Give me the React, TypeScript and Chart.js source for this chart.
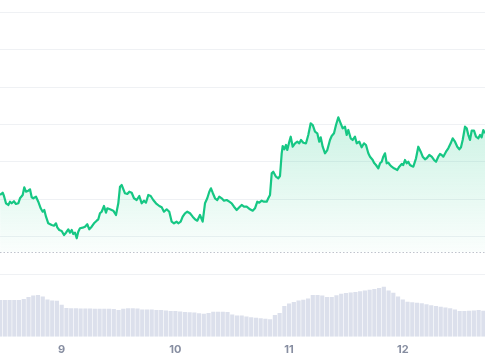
import React, { useEffect, useRef } from 'react';
import { Chart, registerables } from 'chart.js';

Chart.register(...registerables);

// Hours relative to 00:00 of day "9"
const HOURS = [
  -13.0, -12.45, -12.18, -11.76, -11.27, -10.91, -10.55, -10.07, -9.65, -9.16,
  -8.8, -8.23, -7.89, -7.54, -7.05, -6.69, -6.33, -5.99, -5.42, -4.94,
  -4.43, -4.01, -3.67, -3.31, -2.83, -2.11, -1.63, -1.2, -0.93, -0.51,
  0, 0.49, 0.91, 1.39, 1.75, 2.11, 2.45, 2.81, 3.17, 3.5,
  3.86, 4.43, 4.92, 5.4, 5.83, 6.33, 6.82, 7.39, 7.73, 8.08,
  8.44, 8.93, 9.35, 9.63, 10.2, 10.89, 11.46, 11.95, 12.31, 12.66,
  13.36, 13.85, 14.27, 14.78, 15.26, 15.83, 16.38, 16.89, 17.37, 17.79,
  18.28, 18.79, 19.33, 19.9, 20.6, 21.11, 21.59, 22.16, 22.71, 23.22,
  23.7, 24.27, 24.61, 25.12, 25.54, 26.03, 26.51, 27.08, 27.65, 28.14,
  28.62, 29.19, 29.76, 30.25, 30.73, 31.16, 31.51, 31.87, 32.36, 32.84,
  33.27, 33.77, 34.26, 34.83, 35.38, 35.88, 36.37, 36.94, 37.49, 37.99,
  38.48, 39.05, 39.75, 40.32, 40.8, 41.29, 41.71, 42.22, 42.7, 43.27,
  43.61, 43.97, 44.33, 44.66, 45.23, 45.72, 46.08, 46.44, 46.65, 46.99,
  47.35, 47.62, 48.04, 48.34, 48.76, 49.25, 49.73, 50.15, 50.51, 51.0,
  51.57, 52.05, 52.56, 52.98, 53.47, 53.95, 54.37, 54.67, 55.09, 55.58,
  56.06, 56.63, 56.99, 57.48, 57.9, 58.39, 58.89, 59.31, 59.8, 60.16,
  60.5, 61.0, 61.42, 61.91, 62.27, 62.82, 63.32, 63.81, 64.23, 64.72,
  65.08, 65.65, 65.92, 66.34, 66.83, 67.19, 67.55, 67.88, 68.24, 68.6,
  68.94, 69.3, 69.66, 70.14, 70.56, 70.84, 71.26, 71.77, 72.1, 72.46,
  72.82, 73.16, 73.52, 73.88, 74.22, 74.79, 75.27, 75.78, 76.2, 76.69,
  77.04, 77.59, 78.1, 78.59, 79.01, 79.49, 79.85, 80.21, 80.55, 81.12,
  81.6, 82.11, 82.53, 83.02, 83.5, 83.93, 84.28, 84.64, 85.13, 85.49,
  85.83, 86.18, 86.54, 87.03, 87.45, 87.94, 88.3, 88.65, 88.99, 89.35,
];

const PRICES = [
  31.15, 31.76, 30.88, 28.93, 28.48, 29.36, 28.93, 29.47, 28.74, 28.93,
  30.27, 31.15, 33.21, 32.03, 32.3, 32.67, 30.53, 30.27, 30.7, 29.36,
  27.59, 26.68, 27.14, 25.35, 23.58, 23.13, 22.94, 23.58, 22.51, 21.79,
  21.52, 20.45, 21.07, 21.98, 21.07, 21.79, 20.72, 21.07, 19.57, 21.34,
  22.25, 22.41, 22.67, 23.32, 21.98, 22.67, 23.58, 24.28, 24.65, 26.26,
  26.68, 28.21, 26.42, 27.59, 27.33, 26.95, 25.8, 28.93, 33.37, 33.82,
  31.6, 31.42, 32.03, 31.76, 30.27, 29.81, 30.88, 28.93, 29.63, 29.09,
  31.15, 30.88, 29.81, 28.93, 28.21, 27.86, 26.68, 27.33, 26.68, 24.01,
  23.58, 24.01, 23.58, 24.01, 25.35, 26.26, 26.68, 26.26, 25.35, 24.65,
  24.28, 25.8, 24.01, 28.93, 30.27, 32.03, 32.94, 31.76, 30.27, 29.81,
  30.7, 30.27, 29.63, 29.81, 29.36, 28.93, 28.02, 27.14, 27.86, 28.48,
  28.02, 28.02, 27.33, 26.95, 27.59, 29.36, 29.09, 29.63, 29.36, 29.36,
  30.27, 31.15, 36.95, 37.38, 36.04, 35.61, 36.23, 42.3, 44.25, 43.37,
  44.52, 43.18, 45.4, 46.74, 44.06, 44.97, 45.4, 44.97, 45.86, 45.13,
  44.97, 47.19, 50.32, 49.87, 48.07, 47.65, 45.4, 46.58, 44.06, 42.3,
  43.18, 45.86, 46.93, 47.65, 49.87, 51.93, 50.32, 48.98, 49.41, 47.19,
  48.53, 46.31, 45.86, 46.74, 44.97, 45.4, 43.9, 44.97, 44.52, 42.3,
  41.39, 40.51, 39.79, 39.17, 38.29, 39.63, 40.05, 41.39, 42.3, 39.63,
  39.79, 39.17, 38.72, 38.29, 38.02, 37.83, 38.72, 39.44, 39.17, 40.51,
  39.63, 40.05, 39.17, 38.9, 38.72, 40.96, 44.06, 42.73, 41.39, 40.7,
  40.96, 41.84, 41.39, 40.51, 40.05, 41.39, 42.11, 41.84, 41.39, 42.73,
  43.64, 44.97, 46.31, 45.4, 44.06, 43.37, 43.9, 45.86, 49.41, 48.98,
  47.19, 45.86, 48.34, 48.34, 46.74, 46.31, 47.19, 46.58, 48.53, 47.65,
];

const VOLUME_HOURS = [
  -13, -12, -11, -10, -9, -8, -7, -6, -5, -4,
  -3, -2, -1, 0, 1, 2, 3, 4, 5, 6,
  7, 8, 9, 10, 11, 12, 13, 14, 15, 16,
  17, 18, 19, 20, 21, 22, 23, 24, 25, 26,
  27, 28, 29, 30, 31, 32, 33, 34, 35, 36,
  37, 38, 39, 40, 41, 42, 43, 44, 45, 46,
  47, 48, 49, 50, 51, 52, 53, 54, 55, 56,
  57, 58, 59, 60, 61, 62, 63, 64, 65, 66,
  67, 68, 69, 70, 71, 72, 73, 74, 75, 76,
  77, 78, 79, 80, 81, 82, 83, 84, 85, 86,
  87, 88, 89,
];

const VOLUMES = [
  3.67, 3.67, 3.67, 3.67, 3.66, 3.77, 3.97, 4.12, 4.17, 4.02,
  3.72, 3.62, 3.6, 3.2, 2.87, 2.84, 2.84, 2.82, 2.82, 2.82,
  2.8, 2.8, 2.8, 2.8, 2.77, 2.67, 2.8, 2.84, 2.84, 2.82,
  2.72, 2.72, 2.72, 2.67, 2.67, 2.62, 2.57, 2.57, 2.52, 2.47,
  2.44, 2.42, 2.34, 2.3, 2.37, 2.5, 2.5, 2.5, 2.47, 2.22,
  2.12, 2.12, 2.02, 1.94, 1.89, 1.84, 1.79, 1.74, 2.17, 2.37,
  3.07, 3.32, 3.47, 3.62, 3.7, 3.82, 4.17, 4.17, 4.12, 3.97,
  3.97, 4.15, 4.29, 4.37, 4.42, 4.47, 4.55, 4.62, 4.7, 4.77,
  4.87, 5.0, 4.62, 4.4, 4.02, 3.72, 3.5, 3.44, 3.4, 3.35,
  3.24, 3.15, 3.07, 2.99, 2.92, 2.84, 2.72, 2.57, 2.57, 2.6,
  2.62, 2.67, 2.6,
];

const DAY_TICKS = [0, 24, 48, 72];
const DAY_LABELS = ['9', '10', '11', '12'];
const PRICE_GRID = [10, 20, 30, 40, 50, 60, 70, 80];
const REFERENCE_PRICE = 15.91;

const X_MIN = -13.02;
const X_MAX = 89.35;
const PRICE_MIN = -6.74;
const PRICE_MAX = 80;
const VOLUME_MAX = 32.44;

const GREEN = '#16c784';

export default function App() {
  const canvasRef = useRef<HTMLCanvasElement | null>(null);

  useEffect(() => {
    document.body.style.margin = '0';
    const canvas = canvasRef.current;
    if (!canvas) return;

    const referenceLine = {
      id: 'referenceLine',
      beforeDatasetsDraw(chart: any) {
        const { ctx, chartArea, scales } = chart;
        const y = scales.y.getPixelForValue(REFERENCE_PRICE);
        ctx.save();
        ctx.strokeStyle = '#bfc3cc';
        ctx.lineWidth = 1;
        ctx.setLineDash([1.5, 2]);
        ctx.beginPath();
        ctx.moveTo(chartArea.left, Math.round(y) + 0.5);
        ctx.lineTo(chartArea.right, Math.round(y) + 0.5);
        ctx.stroke();
        ctx.restore();
      },
    };

    const maxPrice = Math.max(...PRICES);

    const chart = new Chart(canvas, {
      type: 'line',
      data: {
        datasets: [
          {
            type: 'line',
            data: HOURS.map((h, i) => ({ x: h, y: PRICES[i] })),
            borderColor: GREEN,
            borderWidth: 2.2,
            borderJoinStyle: 'round',
            pointRadius: 0,
            tension: 0,
            yAxisID: 'y',
            fill: { value: REFERENCE_PRICE },
            backgroundColor: (ctx: any) => {
              const c = ctx.chart;
              if (!c.chartArea) return 'rgba(22,199,132,0.1)';
              const top = c.scales.y.getPixelForValue(maxPrice);
              const bot = c.scales.y.getPixelForValue(REFERENCE_PRICE);
              const g = c.ctx.createLinearGradient(0, top, 0, bot);
              g.addColorStop(0, 'rgba(22,199,132,0.22)');
              g.addColorStop(1, 'rgba(22,199,132,0.02)');
              return g;
            },
            order: 1,
          } as any,
          {
            type: 'bar',
            data: VOLUME_HOURS.map((h, i) => ({ x: h, y: VOLUMES[i] })),
            backgroundColor: '#dce0ec',
            borderWidth: 0,
            barPercentage: 0.88,
            categoryPercentage: 1,
            yAxisID: 'yv',
            order: 2,
          } as any,
        ],
      },
      options: {
        responsive: false,
        animation: false,
        layout: { padding: { top: 12.3, left: 0, right: 0, bottom: 0 } },
        plugins: {
          legend: { display: false },
          tooltip: { enabled: false },
        },
        scales: {
          x: {
            type: 'linear',
            offset: false,
            min: X_MIN,
            max: X_MAX,
            afterBuildTicks: (s: any) => {
              s.ticks = DAY_TICKS.map((v) => ({ value: v }));
            },
            afterFit: (s: any) => {
              s.height = 23.3;
            },
            grid: { display: false, drawTicks: false, offset: false },
            border: { display: false },
            ticks: {
              padding: 6,
              maxRotation: 0,
              autoSkip: false,
              color: '#878ea1',
              font: { family: 'Inter', size: 11, weight: '700' },
              callback: (v: any) => {
                const idx = DAY_TICKS.indexOf(v);
                return idx >= 0 ? DAY_LABELS[idx] : '';
              },
            },
          },
          y: {
            position: 'left',
            min: PRICE_MIN,
            max: PRICE_MAX,
            afterBuildTicks: (s: any) => {
              s.ticks = PRICE_GRID.map((v) => ({ value: v }));
            },
            grid: { color: '#eff1f4', lineWidth: 1, drawTicks: false },
            border: { display: false },
            ticks: { display: false },
          },
          yv: {
            display: false,
            min: 0,
            max: VOLUME_MAX,
          },
        },
      } as any,
      plugins: [referenceLine],
    });

    return () => chart.destroy();
  }, []);

  return (
    <div style={{ width: 485, height: 360 }}>
      <canvas ref={canvasRef} width={485} height={360} />
    </div>
  );
}
